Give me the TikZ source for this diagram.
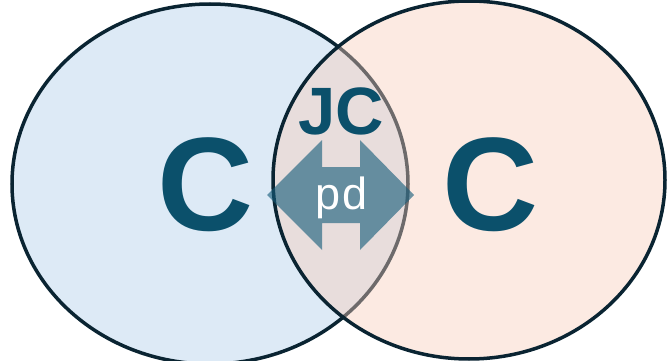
\documentclass[tikz,border=0pt]{standalone}
\usepackage{fontspec}
\setmainfont{Liberation Sans}
\usetikzlibrary{positioning}
\usetikzlibrary{shapes.geometric}

\definecolor{ringline}{RGB}{10,36,50}
\definecolor{setblue}{RGB}{221,234,246}
\definecolor{setrose}{RGB}{248,205,186}
\definecolor{lettercol}{RGB}{11,80,107}
\definecolor{arrowcol}{RGB}{22,92,122}

\begin{document}
\begin{tikzpicture}[x=1pt,y=-1pt,
                set/.style={ellipse, draw=ringline, line width=3.5pt, inner sep=0pt},
                bigletter/.style={text=lettercol, font=\fontsize{133}{133}\selectfont\bfseries},
                every node/.style={inner sep=0pt}]
            \useasboundingbox (0,0) rectangle (667,361);

            % the two sets
            \node[set, fill=setblue, minimum width=396pt, minimum height=360pt] (setA) at (210,184) {};
            \node[set, fill=setrose, fill opacity=0.42, minimum width=392pt, minimum height=358pt] (setB) at (469,180) {};

            % labels
            \node[bigletter] (cA) at (206,185) {C};
            \node[bigletter] (cB) at (491,185) {C};
            \node[text=lettercol, font=\fontsize{67}{67}\selectfont\bfseries] (jc) at (341,111) {JC};

            % overlap arrow
            \coordinate (mid) at (341,195);
            \fill[arrowcol, opacity=0.62, shift={(mid)}]
                (-74,0) -- (-19,-55) -- (-19,-28) -- (19,-28) -- (19,-55) -- (73,0)
                -- (19,55) -- (19,28) -- (-19,28) -- (-19,55) -- cycle;
            \node[text=white, font=\fontsize{45}{45}\selectfont] (pd) at (342,198) {p\kern2pt d};
        \end{tikzpicture}
\end{document}
